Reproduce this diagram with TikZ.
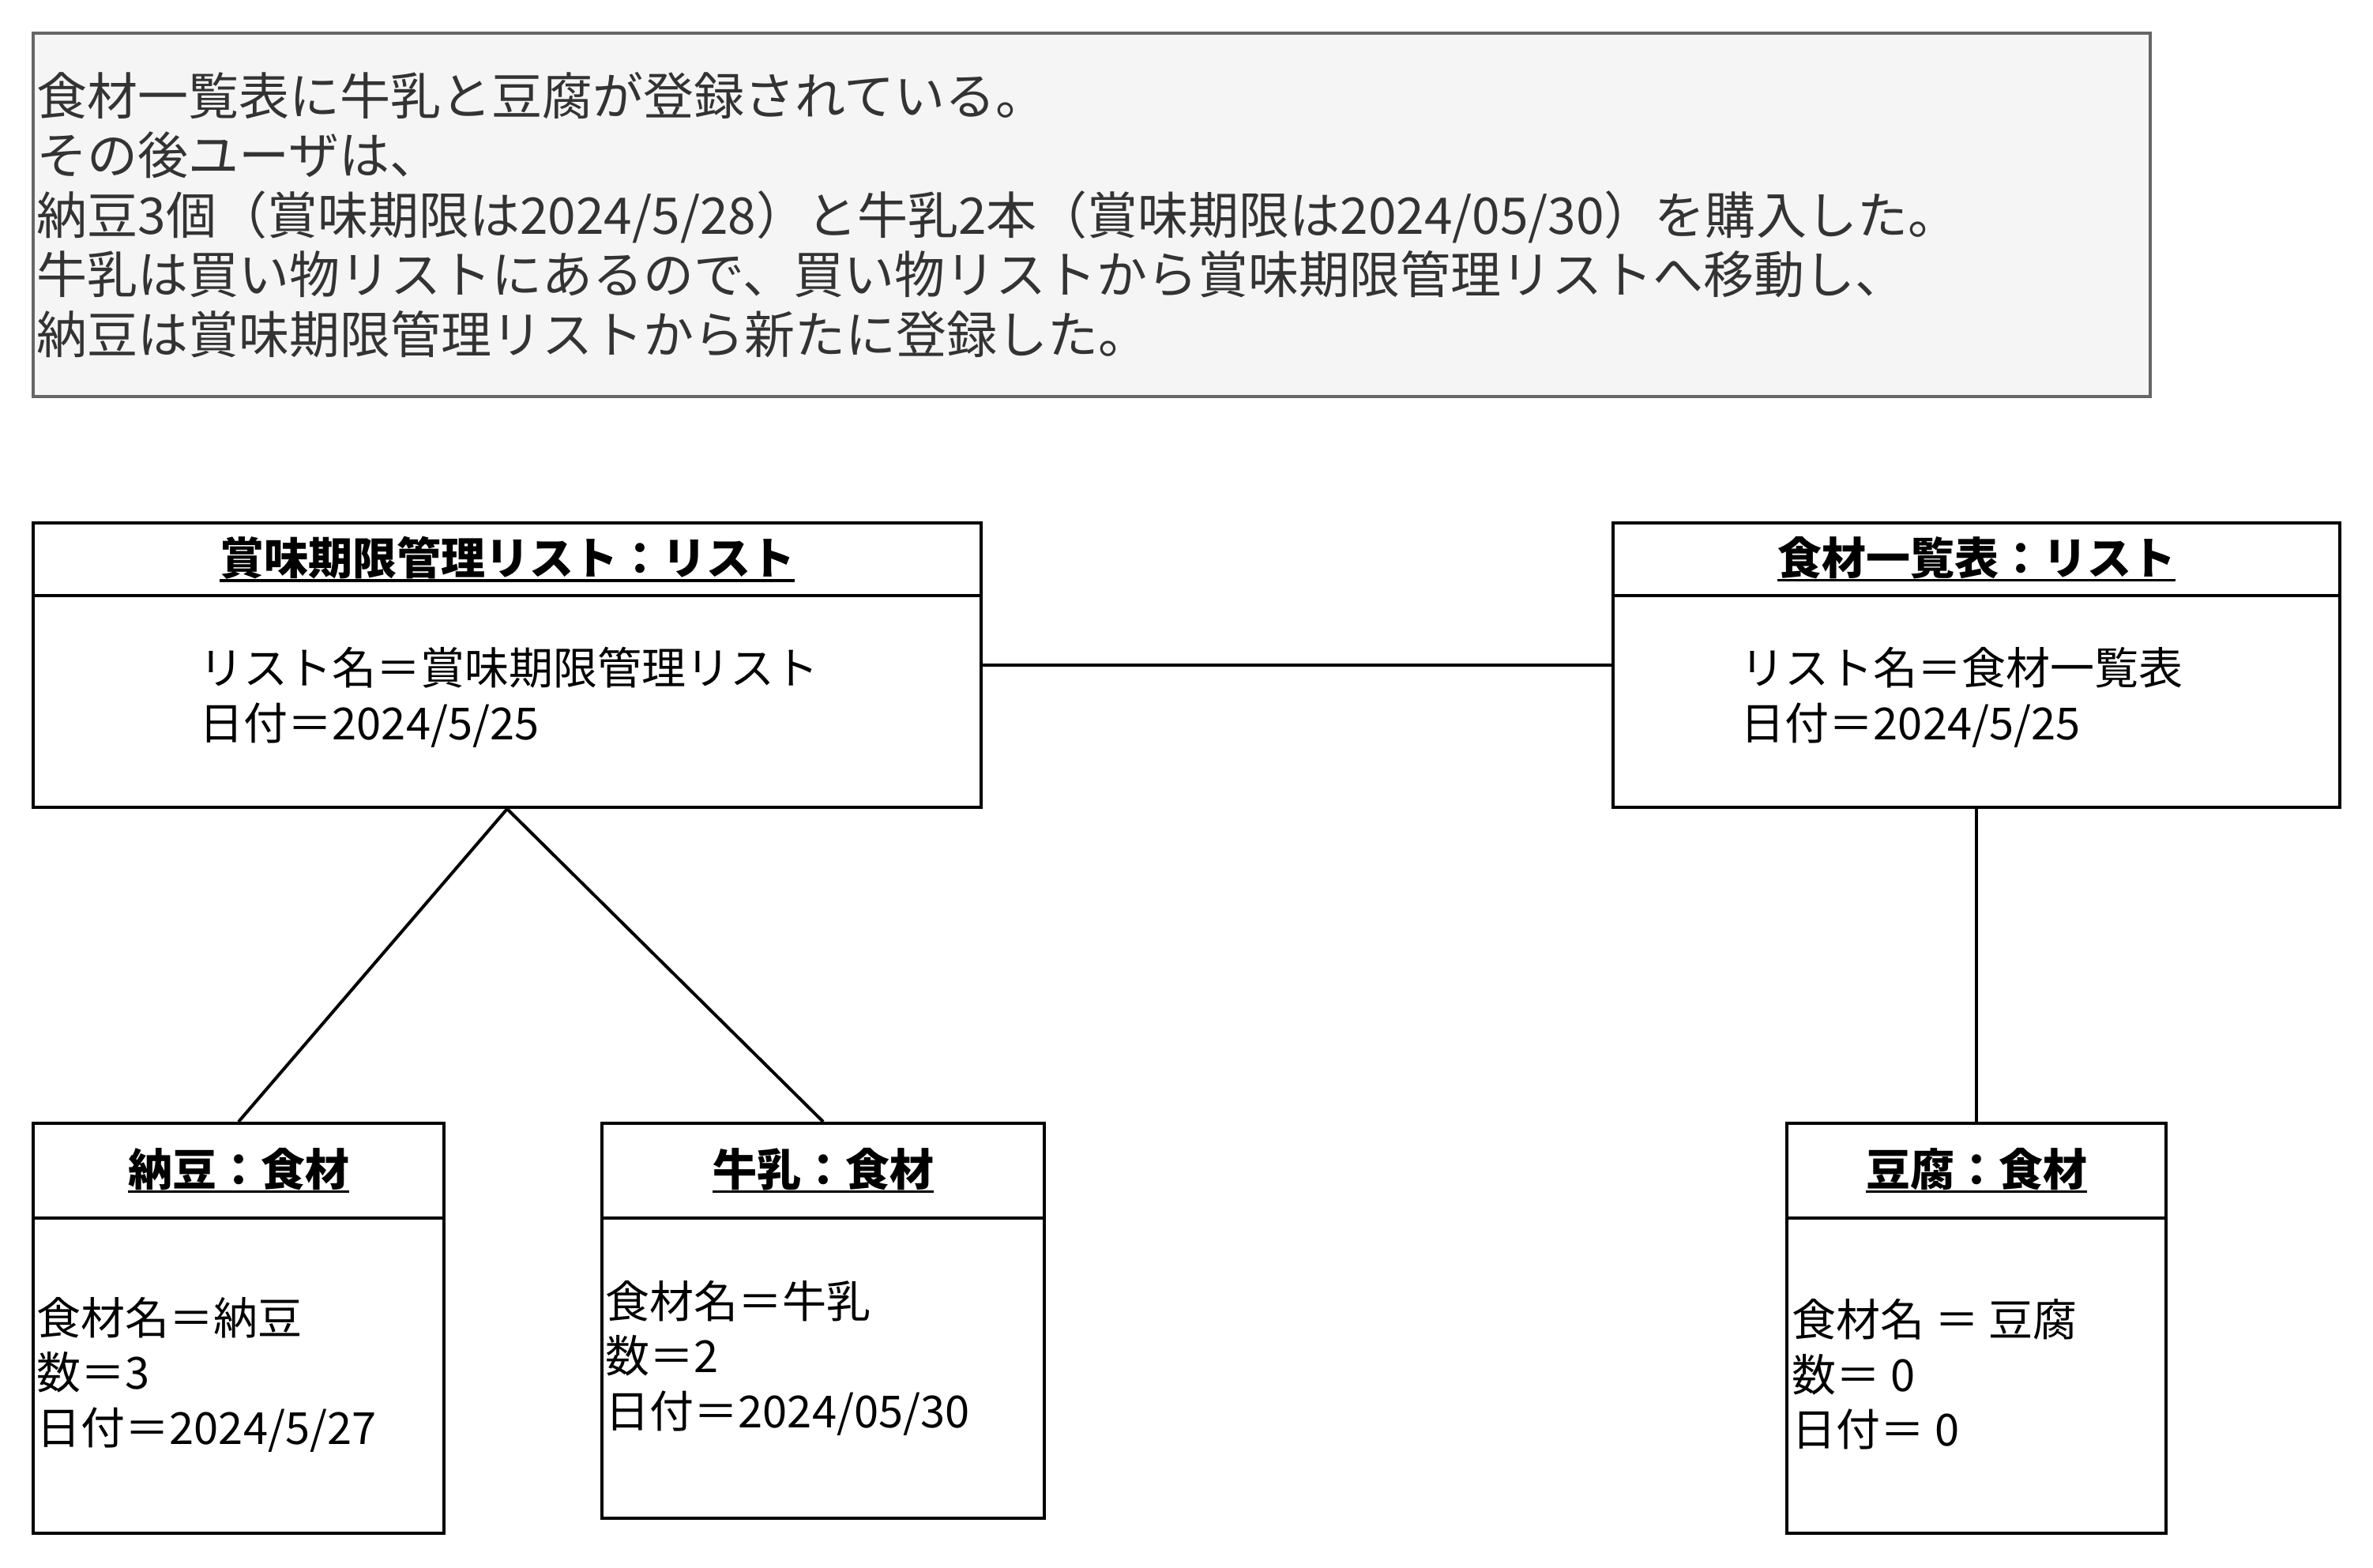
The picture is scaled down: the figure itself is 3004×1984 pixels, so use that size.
\documentclass[tikz,border=0pt]{standalone}
\usepackage{fontspec}
\setmainfont{Noto Sans CJK JP}
\definecolor{notefill}{HTML}{F5F5F5}
\definecolor{notedraw}{HTML}{666666}
\definecolor{notetext}{HTML}{333333}
\newcommand{\titleul}[1]{\setbox0=\hbox{#1}\rlap{\rule[-2.2pt]{\wd0}{0.9pt}}\box0}
\tikzset{
  objbox/.style={draw=black, line width=1pt, fill=white, inner sep=0pt},
  notebox/.style={draw=notedraw, line width=1pt, fill=notefill, inner sep=0pt},
  notetxt/.style={anchor=west, align=left, inner sep=0pt, text=notetext, font=\fontsize{16pt}{18.9pt}\selectfont},
  titletxt/.style={inner sep=0pt, font=\fontsize{14pt}{17pt}\selectfont\bfseries},
  bodytxt/.style={anchor=west, align=left, inner sep=0pt, font=\fontsize{14pt}{17.4pt}\selectfont},
  link/.style={draw=black, line width=1pt},
  sepline/.style={draw=black, line width=1pt}
}
\begin{document}
\begin{tikzpicture}[x=0.25pt, y=-0.25pt]
\useasboundingbox (0,0) rectangle (3004,1984);
% note
\node[notebox, minimum width=670pt, minimum height=115pt] (G) at (1382,272) {};
\node[notetxt] (Gt) at (46,272) {食材一覧表に牛乳と豆腐が登録されている。\\その後ユーザは、\\納豆3個（賞味期限は2024/5/28）と牛乳2本（賞味期限は2024/05/30）を購入した。\\牛乳は買い物リストにあるので、買い物リストから賞味期限管理リストへ移動し、\\納豆は賞味期限管理リストから新たに登録した。};
% object boxes
\node[objbox, minimum width=300pt, minimum height=90pt] (A) at (642,842) {};
\node[objbox, minimum width=230pt, minimum height=90pt] (B) at (2502,842) {};
\node[objbox, minimum width=130pt, minimum height=129.75pt] (N) at (302,1681.5) {};
\node[objbox, minimum width=140pt, minimum height=125pt] (M) at (1042,1672) {};
\node[objbox, minimum width=120pt, minimum height=129.75pt] (T) at (2502,1681.5) {};
% header separators
\coordinate (Asl) at (42,754); \coordinate (Asr) at (1242,754);
\coordinate (Bsl) at (2042,754); \coordinate (Bsr) at (2962,754);
\coordinate (Nsl) at (42,1542); \coordinate (Nsr) at (562,1542);
\coordinate (Msl) at (762,1542); \coordinate (Msr) at (1322,1542);
\coordinate (Tsl) at (2262,1542); \coordinate (Tsr) at (2742,1542);
\draw[sepline] (Asl) -- (Asr);
\draw[sepline] (Bsl) -- (Bsr);
\draw[sepline] (Nsl) -- (Nsr);
\draw[sepline] (Msl) -- (Msr);
\draw[sepline] (Tsl) -- (Tsr);
% titles
\node[titletxt] (At) at (642,708) {\titleul{賞味期限管理リスト：リスト}};
\node[titletxt] (Bt) at (2502,708) {\titleul{食材一覧表：リスト}};
\node[titletxt] (Nt) at (302,1482) {\titleul{納豆：食材}};
\node[titletxt] (Mt) at (1042,1482) {\titleul{牛乳：食材}};
\node[titletxt] (Tt) at (2502,1482) {\titleul{豆腐：食材}};
% bodies
\node[bodytxt] (Ab) at (252,883) {リスト名＝賞味期限管理リスト\\日付＝2024/5/25};
\node[bodytxt] (Bb) at (2203,883) {リスト名＝食材一覧表\\日付＝2024/5/25};
\node[bodytxt] (Nb) at (46,1740) {食材名＝納豆\\数＝3\\日付＝2024/5/27};
\node[bodytxt] (Mb) at (766,1719) {食材名＝牛乳\\数＝2\\日付＝2024/05/30};
\node[bodytxt] (Tb) at (2268,1740) {食材名 ＝ 豆腐\\数＝ 0\\日付＝ 0};
% connectors
\draw[link] (A.east) -- (B.west);
\draw[link] (A.south) -- (N.north);
\draw[link] (A.south) -- (M.north);
\draw[link] (B.south) -- (T.north);
\end{tikzpicture}
\end{document}
